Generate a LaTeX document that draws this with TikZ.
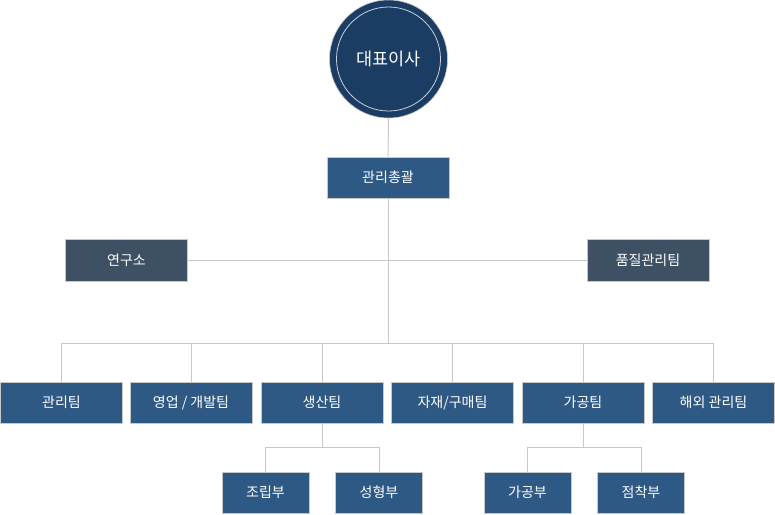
\documentclass[tikz,border=0pt]{standalone}
\usepackage{fontspec}
\newfontfamily\kr{Noto Sans CJK KR}
\definecolor{navy}{HTML}{1B3C63}
\definecolor{boxblue}{HTML}{2E5985}
\definecolor{boxgray}{HTML}{3E5164}
\definecolor{edgegray}{HTML}{C8C8C8}
\definecolor{ringc}{HTML}{C9D1DC}
\tikzset{
  orgbox/.style={draw=edgegray, line width=1pt, fill=boxblue, text=white,
    minimum width=122pt, minimum height=41pt, inner sep=0pt, font=\kr\fontsize{14}{16}\selectfont},
  darkbox/.style={orgbox, fill=boxgray, minimum height=42pt},
  subbox/.style={orgbox, minimum width=87pt},
  conn/.style={draw=edgegray, line width=1pt}
}
\begin{document}
\begin{tikzpicture}[x=1pt,y=-1pt]
\useasboundingbox (0,0) rectangle (775,514);
% CEO circle
\node[circle, fill=navy, draw=edgegray, line width=0.6pt, minimum size=118pt, inner sep=0pt] (ceo) at (388.5,59) {};
\node[circle, draw=ringc, line width=0.8pt, minimum size=104pt, inner sep=0pt, text=white,
  font=\kr\fontsize{17.5}{20}\selectfont] (ceoin) at (388.5,59) {대표이사};
% boxes
\node[orgbox] (gc) at (388,177.5) {관리총괄};
\node[darkbox] (lab) at (126.5,260) {연구소};
\node[darkbox] (qa) at (648,260) {품질관리팀};
\node[orgbox] (t1) at (61.5,402.5) {관리팀};
\node[orgbox] (t2) at (191,402.5) {영업 / 개발팀};
\node[orgbox] (t3) at (322,402.5) {생산팀};
\node[orgbox] (t4) at (452.5,402.5) {자재/구매팀};
\node[orgbox] (t5) at (583,402.5) {가공팀};
\node[orgbox] (t6) at (713.5,402.5) {해외 관리팀};
\node[subbox] (s1) at (265.5,492.5) {조립부};
\node[subbox] (s2) at (379,492.5) {성형부};
\node[subbox] (s3) at (527.5,492.5) {가공부};
\node[subbox] (s4) at (641,492.5) {점착부};
% junctions
\coordinate (mid) at (388,260);
\coordinate (bus) at (388,343);
\coordinate (sb1) at (322,447);
\coordinate (sb2) at (583,447);
% connectors
\begin{scope}[on background layer/.style={}]
\draw[conn] (ceo.south) -- (gc.north);
\draw[conn] (gc.south) -- (bus);
\draw[conn] (lab.east) -- (qa.west);
\foreach \t in {t1,t2,t3,t4,t5,t6} \draw[conn] (bus) -| (\t.north);
\draw[conn] (t3.south) -- (sb1) -| (s1.north);
\draw[conn] (sb1) -| (s2.north);
\draw[conn] (t5.south) -- (sb2) -| (s3.north);
\draw[conn] (sb2) -| (s4.north);
\end{scope}
\end{tikzpicture}
\end{document}
